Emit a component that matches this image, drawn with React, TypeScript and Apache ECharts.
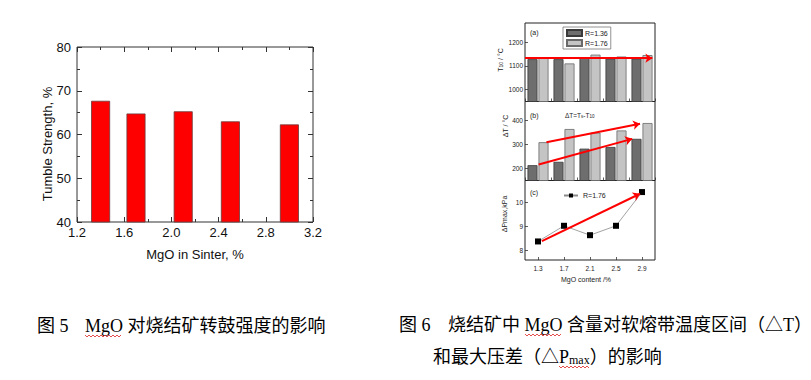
import React, { useEffect, useRef } from 'react';
import * as echarts from 'echarts';

// Figure 5 data
const tumbleMgO = [1.4, 1.7, 2.1, 2.5, 3.0];
const tumbleStrength = [67.7, 64.8, 65.3, 63.0, 62.3];

// Figure 6 data
const mgoContent = ['1.3', '1.7', '2.1', '2.5', '2.9'];
const t10R136 = [1128, 1128, 1134, 1130, 1130];
const t10R176 = [1135, 1110, 1147, 1139, 1145];
const dTR136 = [214, 228, 283, 290, 324];
const dTR176 = [310, 365, 350, 359, 390];
const dPR176 = [8.37, 9.02, 8.63, 9.02, 10.42];

// Red trend arrows (x in MgO %, y in panel units)
const arrowA = [[1.1, 1132], [3.06, 1132]];
const arrowB1 = [[1.43, 310], [2.87, 387]];
const arrowB2 = [[1.31, 217], [2.75, 324]];
const arrowC = [[1.36, 8.38], [2.87, 10.35]];

const SANS = "'Liberation Sans', Arial, sans-serif";
const CAP = "'Liberation Serif', 'Noto Sans CJK SC', serif";

function wave(x0: number, x1: number, y: number) {
  const pts: number[][] = [];
  let up = true;
  for (let x = x0; x <= x1; x += 2) {
    pts.push([x, up ? y - 1 : y + 1]);
    up = !up;
  }
  return pts;
}

export default function App() {
  const ref = useRef<HTMLDivElement>(null);
  useEffect(() => {
    if (!ref.current) return;
    const chart = echarts.init(ref.current, null, { renderer: 'svg' });
    const smallTick = { show: true, inside: true, length: 3, lineStyle: { color: '#333', width: 0.8 } };
    const rightY = (gi: number, min: number, max: number) => ({
      gridIndex: gi,
      type: 'value',
      min,
      max,
      splitNumber: 3,
      axisLine: { show: false },
      axisTick: smallTick,
      splitLine: { show: false },
      axisLabel: {
        fontSize: 6.5, fontFamily: SANS, color: '#222', margin: 2,
        showMinLabel: false, showMaxLabel: false,
        formatter: (v: number) => String(v),
      },
    });
    const rightCat = (gi: number, labels: boolean) => ({
      gridIndex: gi,
      type: 'category',
      data: mgoContent,
      boundaryGap: true,
      axisLine: { show: false },
      axisTick: { ...smallTick, alignWithLabel: labels },
      axisLabel: { show: labels, fontSize: 6.5, fontFamily: SANS, color: '#222', margin: 5 },
    });
    const hiddenX = (gi: number) => ({ gridIndex: gi, type: 'value', min: 1.1, max: 3.1, show: false });
    const arrow = (xi: number, yi: number, coords: number[][]) => ({
      type: 'lines',
      coordinateSystem: 'cartesian2d',
      xAxisIndex: xi,
      yAxisIndex: yi,
      silent: true,
      z: 5,
      symbol: ['none', 'arrow'],
      symbolSize: 7,
      lineStyle: { color: '#ff0000', width: 2, opacity: 1 },
      data: [{ coords }],
    });
    const darkBar = { color: '#6e6e6e', borderColor: '#3a3a3a', borderWidth: 0.8 };
    const lightBar = { color: '#c4c4c4', borderColor: '#6a6a6a', borderWidth: 0.8 };

    chart.setOption({
      animation: false,
      backgroundColor: '#ffffff',
      grid: [
        { left: 77, top: 47, width: 236, height: 175, show: true, borderColor: '#333', borderWidth: 1 },
        { left: 525, top: 23, width: 130, height: 78.5, show: true, borderColor: '#222', borderWidth: 1 },
        { left: 525, top: 101.5, width: 130, height: 79, show: true, borderColor: '#222', borderWidth: 1 },
        { left: 525, top: 180.5, width: 130, height: 79.5, show: true, borderColor: '#222', borderWidth: 1 },
      ],
      xAxis: [
        {
          gridIndex: 0, type: 'value', min: 1.2, max: 3.2, interval: 0.4,
          axisLine: { show: false },
          axisTick: { show: true, inside: true, length: 5, lineStyle: { color: '#333' } },
          minorTick: { show: true, splitNumber: 2, length: 3, lineStyle: { color: '#333' } },
          splitLine: { show: false },
          axisLabel: { fontSize: 13, fontFamily: SANS, color: '#111', margin: 4, formatter: (v: number) => v.toFixed(1) },
        },
        {
          gridIndex: 0, type: 'value', min: 1.2, max: 3.2, interval: 0.4, position: 'top',
          axisLine: { show: false },
          axisTick: { show: true, inside: true, length: 5, lineStyle: { color: '#333' } },
          minorTick: { show: true, splitNumber: 2, length: 3, lineStyle: { color: '#333' } },
          splitLine: { show: false },
          axisLabel: { show: false },
        },
        rightCat(1, false),
        rightCat(2, false),
        rightCat(3, true),
        hiddenX(1),
        hiddenX(2),
        hiddenX(3),
      ],
      yAxis: [
        {
          gridIndex: 0, type: 'value', min: 40, max: 80, interval: 10,
          axisLine: { show: false },
          axisTick: { show: true, inside: true, length: 5, lineStyle: { color: '#333' } },
          minorTick: { show: true, splitNumber: 2, length: 3, lineStyle: { color: '#333' } },
          splitLine: { show: false },
          axisLabel: { fontSize: 13, fontFamily: SANS, color: '#111', margin: 6 },
        },
        {
          gridIndex: 0, type: 'value', min: 40, max: 80, interval: 10, position: 'right',
          axisLine: { show: false },
          axisTick: { show: true, inside: true, length: 5, lineStyle: { color: '#333' } },
          minorTick: { show: true, splitNumber: 2, length: 3, lineStyle: { color: '#333' } },
          splitLine: { show: false },
          axisLabel: { show: false },
        },
        rightY(1, 950, 1280),
        rightY(2, 150, 480),
        rightY(3, 7.6, 10.9),
      ],
      legend: [
        {
          data: ['R=1.36', 'R=1.76'],
          left: 563, top: 27, orient: 'vertical',
          icon: 'rect', itemWidth: 15, itemHeight: 6, itemGap: 2,
          padding: [2, 3], borderColor: '#777', borderWidth: 0.8,
          textStyle: { fontSize: 7, fontFamily: SANS, color: '#222', padding: [0, 0, 0, -2] },
          selectedMode: false,
        },
        {
          data: ['R=1.76 '],
          left: 558, top: 187, itemWidth: 14, itemHeight: 5,
          formatter: (n: string) => n.trim(),
          textStyle: { fontSize: 7, fontFamily: SANS, color: '#222' },
          selectedMode: false,
        },
      ],
      series: [
        {
          type: 'bar', xAxisIndex: 0, yAxisIndex: 0, barWidth: 19,
          data: tumbleMgO.map((x, i) => [x, tumbleStrength[i]]),
          itemStyle: { color: '#ff0000', borderColor: '#6a3a3a', borderWidth: 0.8 },
        },
        { name: 'R=1.36', type: 'bar', xAxisIndex: 2, yAxisIndex: 2, barWidth: 10, barGap: '10%', data: t10R136, itemStyle: darkBar },
        { name: 'R=1.76', type: 'bar', xAxisIndex: 2, yAxisIndex: 2, barWidth: 10, barGap: '10%', data: t10R176, itemStyle: lightBar },
        { name: 'R=1.36', type: 'bar', xAxisIndex: 3, yAxisIndex: 3, barWidth: 10, barGap: '10%', data: dTR136, itemStyle: darkBar },
        { name: 'R=1.76', type: 'bar', xAxisIndex: 3, yAxisIndex: 3, barWidth: 10, barGap: '10%', data: dTR176, itemStyle: lightBar },
        {
          name: 'R=1.76 ', type: 'line', xAxisIndex: 4, yAxisIndex: 4, data: dPR176,
          symbol: 'rect', symbolSize: 6,
          itemStyle: { color: '#000' },
          lineStyle: { color: '#8a8a8a', width: 0.8 },
        },
        arrow(5, 2, arrowA),
        arrow(6, 3, arrowB1),
        arrow(6, 3, arrowB2),
        arrow(7, 4, arrowC),
      ],
      graphic: [
        { type: 'text', x: 47, y: 144, rotation: Math.PI / 2, style: { text: 'Tumble Strength, %', fontSize: 13, fontFamily: SANS, fill: '#111', align: 'center', verticalAlign: 'middle' } },
        { type: 'text', x: 195, y: 254, style: { text: 'MgO in Sinter, %', fontSize: 13, fontFamily: SANS, fill: '#111', align: 'center', verticalAlign: 'middle' } },
        { type: 'text', x: 530, y: 32, style: { text: '(a)', fontSize: 7, fontFamily: SANS, fill: '#222', align: 'left', verticalAlign: 'middle' } },
        { type: 'text', x: 530, y: 115, style: { text: '(b)', fontSize: 7, fontFamily: SANS, fill: '#222', align: 'left', verticalAlign: 'middle' } },
        { type: 'text', x: 530, y: 192, style: { text: '(c)', fontSize: 7, fontFamily: SANS, fill: '#222', align: 'left', verticalAlign: 'middle' } },
        {
          type: 'text', x: 565, y: 115,
          style: {
            text: 'ΔT=T{s|s}-T{s|10}', fontSize: 6.5, fontFamily: SANS, fill: '#222', align: 'left', verticalAlign: 'middle',
            rich: { s: { fontSize: 4.5, fontFamily: SANS, fill: '#222', verticalAlign: 'bottom' } },
          },
        },
        {
          type: 'text', x: 500, y: 60, rotation: Math.PI / 2,
          style: {
            text: 'T{s|10} / °C', fontSize: 7, fontFamily: SANS, fill: '#222', align: 'center', verticalAlign: 'middle',
            rich: { s: { fontSize: 5, fontFamily: SANS, fill: '#222', verticalAlign: 'bottom' } },
          },
        },
        { type: 'text', x: 505, y: 126, rotation: Math.PI / 2, style: { text: 'ΔT / °C', fontSize: 7, fontFamily: SANS, fill: '#222', align: 'center', verticalAlign: 'middle' } },
        { type: 'text', x: 504, y: 214, rotation: Math.PI / 2, style: { text: 'ΔPmax,kPa', fontSize: 7, fontFamily: SANS, fill: '#222', align: 'center', verticalAlign: 'middle' } },
        { type: 'text', x: 586, y: 279, style: { text: 'MgO content /%', fontSize: 7, fontFamily: SANS, fill: '#222', align: 'center', verticalAlign: 'middle' } },
        { type: 'text', x: 37, y: 326, style: { text: '图 5', fontSize: 18, fontFamily: CAP, fill: '#000', align: 'left', verticalAlign: 'middle' } },
        { type: 'text', x: 85, y: 326, style: { text: 'MgO 对烧结矿转鼓强度的影响', fontSize: 18, fontFamily: CAP, fill: '#000', align: 'left', verticalAlign: 'middle' } },
        { type: 'text', x: 399, y: 325, style: { text: '图 6', fontSize: 18, fontFamily: CAP, fill: '#000', align: 'left', verticalAlign: 'middle' } },
        { type: 'text', x: 448, y: 325, style: { text: '烧结矿中 MgO 含量对软熔带温度区间（△T）', fontSize: 18, fontFamily: CAP, fill: '#000', align: 'left', verticalAlign: 'middle' } },
        {
          type: 'text', x: 433, y: 357,
          style: {
            text: '和最大压差（△P{s|max}）的影响', fontSize: 18, fontFamily: CAP, fill: '#000', align: 'left', verticalAlign: 'middle',
            rich: { s: { fontSize: 12, fontFamily: CAP, fill: '#000', verticalAlign: 'bottom' } },
          },
        },
        { type: 'polyline', shape: { points: wave(85, 121, 336) }, style: { stroke: '#e02020', lineWidth: 0.8, fill: null } },
        { type: 'polyline', shape: { points: wave(525, 561, 335) }, style: { stroke: '#e02020', lineWidth: 0.8, fill: null } },
        { type: 'polyline', shape: { points: wave(559, 589, 367) }, style: { stroke: '#e02020', lineWidth: 0.8, fill: null } },
      ],
    });
    return () => chart.dispose();
  }, []);
  return <div ref={ref} style={{ position: 'absolute', left: 0, top: 0, width: 811, height: 380, background: '#fff' }} />;
}
